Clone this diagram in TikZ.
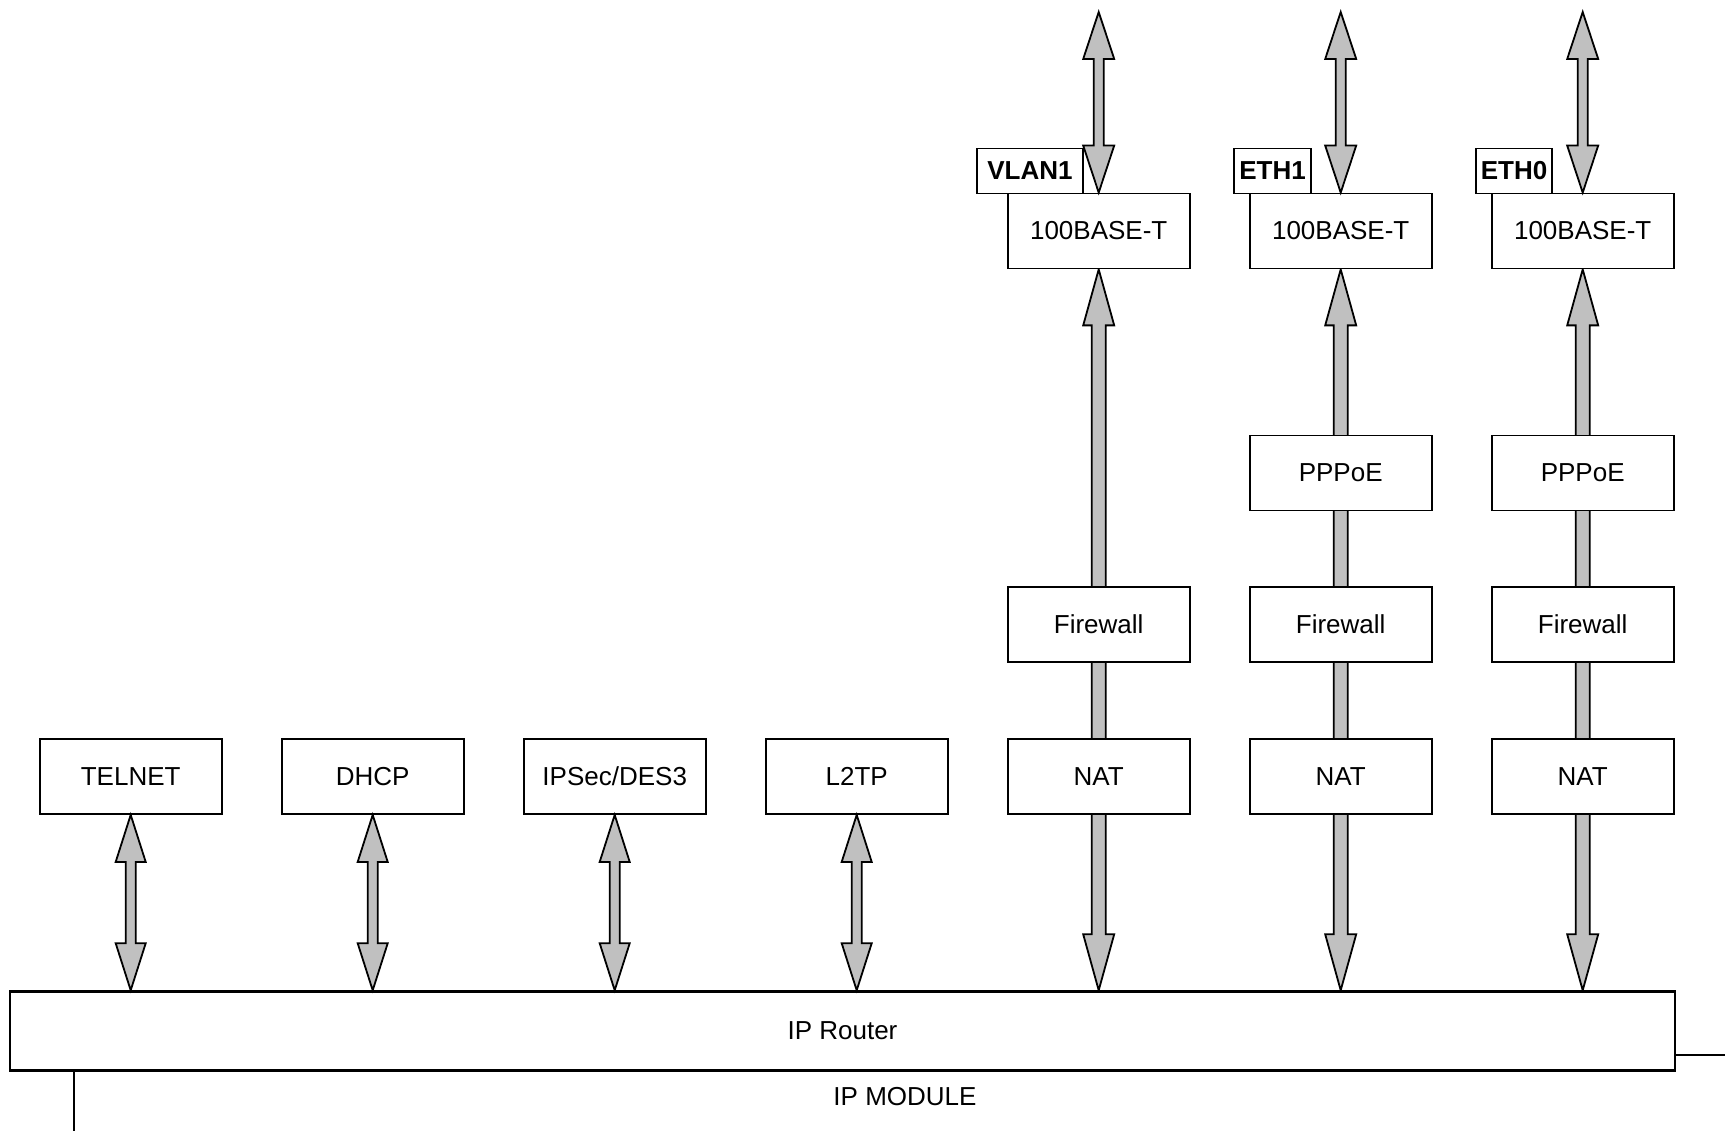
\documentclass[tikz,border=0pt]{standalone}
\usepackage{fontspec}
\setmainfont{Liberation Sans}
\usetikzlibrary{calc,backgrounds}
\definecolor{arrgray}{HTML}{C0C0C0}
\tikzset{
  blk/.style={draw=black,line width=1.8pt,fill=white,minimum width=182pt,minimum height=75pt,inner sep=0pt,font=\fontsize{26}{31}\selectfont},
  lbl/.style={draw=black,line width=1.8pt,fill=white,minimum height=45pt,inner sep=0pt,font=\fontsize{26}{31}\selectfont\bfseries},
  dblarr/.style={draw=black,line width=1.8pt,fill=arrgray,line join=miter},
  plain/.style={font=\fontsize{26}{31}\selectfont}
}
% #1 top point, #2 bottom point, #3 shaft half width, #4 head half width, #5 head length
\newcommand\dblarrow[5]{%
  \draw[dblarr] let \p1=(#1), \p2=(#2) in
    (\x1,\y1) -- (\x1+#4,\y1-#5) -- (\x1+#3,\y1-#5) -- (\x1+#3,\y2+#5) -- (\x1+#4,\y2+#5)
    -- (\x1,\y2) -- (\x1-#4,\y2+#5) -- (\x1-#3,\y2+#5) -- (\x1-#3,\y1-#5) -- (\x1-#4,\y1-#5) -- cycle;}
\begin{document}
\begin{tikzpicture}[x=1pt,y=-1pt]
\useasboundingbox (0,0) rectangle (1725,1131);
% IP Router
\node[draw=black,line width=2.4pt,fill=white,minimum width=1665pt,minimum height=79pt,inner sep=0pt,plain] (router) at (842.5,1031) {IP Router};
\node[plain] (module) at (905,1097) {IP MODULE};
% bottom row
\node[blk] (telnet) at (130.7,776.5) {TELNET};
\node[blk] (dhcp) at (372.7,776.5) {DHCP};
\node[blk] (ipsec) at (614.7,776.5) {IPSec/DES3};
\node[blk] (l2tp) at (856.7,776.5) {L2TP};
\node[blk] (nat5) at (1098.7,776.5) {NAT};
\node[blk] (nat6) at (1340.7,776.5) {NAT};
\node[blk] (nat7) at (1582.7,776.5) {NAT};
% firewall row
\node[blk] (fw5) at (1098.7,624.5) {Firewall};
\node[blk] (fw6) at (1340.7,624.5) {Firewall};
\node[blk] (fw7) at (1582.7,624.5) {Firewall};
% PPPoE row
\node[blk] (ppp6) at (1340.7,473) {PPPoE};
\node[blk] (ppp7) at (1582.7,473) {PPPoE};
% 100BASE-T row
\node[blk] (base5) at (1098.7,231) {100BASE-T};
\node[blk] (base6) at (1340.7,231) {100BASE-T};
\node[blk] (base7) at (1582.7,231) {100BASE-T};
% labels
\node[lbl,minimum width=106pt] (vlan1) at (1030,171) {VLAN1};
\node[lbl,minimum width=77pt] (eth1) at (1272.5,171) {ETH1};
\node[lbl,minimum width=76pt] (eth0) at (1514,171) {ETH0};
% free ends
\coordinate (t5) at (1098.7,12);
\coordinate (t6) at (1340.7,12);
\coordinate (t7) at (1582.7,12);
\coordinate (rend) at (1725,1055);
\coordinate (lend) at (74,1131);
% lines
\draw[line width=1.8pt] (router.east |- rend) -- (rend);
\draw[line width=1.8pt] (lend |- router.south) -- (lend);
% arrows
\dblarrow{t5}{base5.north}{5pt}{15.5pt}{47pt}
\dblarrow{t6}{base6.north}{5pt}{15.5pt}{47pt}
\dblarrow{t7}{base7.north}{5pt}{15.5pt}{47pt}
\dblarrow{telnet.south}{telnet.south |- router.north}{5pt}{15pt}{47pt}
\dblarrow{dhcp.south}{dhcp.south |- router.north}{5pt}{15pt}{47pt}
\dblarrow{ipsec.south}{ipsec.south |- router.north}{5pt}{15pt}{47pt}
\dblarrow{l2tp.south}{l2tp.south |- router.north}{5pt}{15pt}{47pt}
\begin{scope}[on background layer]
\dblarrow{base5.south}{base5.south |- router.north}{7pt}{15.5pt}{56pt}
\dblarrow{base6.south}{base6.south |- router.north}{7pt}{15.5pt}{56pt}
\dblarrow{base7.south}{base7.south |- router.north}{7pt}{15.5pt}{56pt}
\end{scope}
\end{tikzpicture}
\end{document}
